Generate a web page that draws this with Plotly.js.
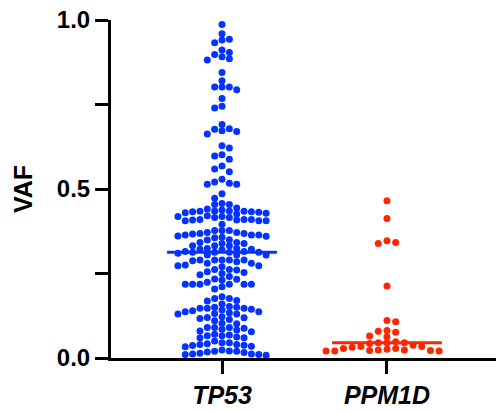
<!DOCTYPE html>
<html><head><meta charset="utf-8">
<script src="https://cdn.plot.ly/plotly-3.0.1.min.js"></script>
<style>html,body{margin:0;padding:0;background:#fff}#chart{width:496px;height:411px}</style>
</head><body><div id="chart"></div>
<script>
// ---- data ----
const categories = ['TP53', 'PPM1D'];
const tp53Vaf = [
  0.987, 0.959, 0.933, 0.943, 0.941, 0.911, 0.904, 0.898, 0.885, 0.891, 0.882,
  0.845, 0.820, 0.802, 0.794, 0.802, 0.802, 0.768, 0.740, 0.745, 0.691,
  0.672, 0.670, 0.663, 0.677, 0.678, 0.628, 0.621, 0.598, 0.588, 0.601,
  0.568, 0.559, 0.551, 0.517, 0.529, 0.514, 0.514, 0.521, 0.486, 0.473,
  0.454, 0.454, 0.457,
  0.433, 0.444, 0.441, 0.428, 0.430, 0.433, 0.434, 0.434, 0.431, 0.426, 0.435, 0.435, 0.438,
  0.421, 0.419, 0.406, 0.408, 0.408, 0.410, 0.416, 0.396, 0.406, 0.406, 0.410, 0.410, 0.416, 0.419,
  0.364, 0.361, 0.360, 0.371, 0.377, 0.364, 0.377, 0.364, 0.377, 0.367, 0.368, 0.368, 0.350, 0.357, 0.356, 0.371,
  0.342, 0.349, 0.339, 0.342, 0.339, 0.332, 0.332, 0.332, 0.324, 0.324,
  0.320, 0.313, 0.313, 0.313, 0.315, 0.313, 0.305, 0.310, 0.315, 0.322, 0.322, 0.305, 0.305,
  0.290, 0.290, 0.288, 0.285, 0.290, 0.280, 0.290, 0.275, 0.280, 0.273, 0.290, 0.273, 0.270,
  0.262, 0.262, 0.255, 0.253, 0.260, 0.250, 0.246,
  0.234, 0.218, 0.241, 0.218, 0.233, 0.211, 0.224, 0.204, 0.218, 0.218, 0.218, 0.218, 0.231,
  0.181, 0.176, 0.176, 0.170, 0.169,
  0.160, 0.150, 0.147, 0.152, 0.147, 0.147, 0.144, 0.142, 0.137, 0.134, 0.150, 0.137, 0.130, 0.130, 0.140, 0.132,
  0.120, 0.122, 0.119, 0.117, 0.114, 0.110, 0.103, 0.101,
  0.090, 0.090, 0.088, 0.080, 0.078, 0.090, 0.085, 0.083,
  0.070, 0.068, 0.066, 0.062, 0.060, 0.060, 0.066,
  0.050, 0.045, 0.045, 0.040, 0.037, 0.035, 0.040, 0.033, 0.038, 0.042,
  0.024, 0.020, 0.012, 0.018, 0.021, 0.014, 0.020, 0.016, 0.012, 0.010, 0.008, 0.010
];
const ppm1dVaf = [
  0.465, 0.413, 0.342, 0.339, 0.347, 0.213, 0.111, 0.107, 0.081, 0.079, 0.076, 0.065, 0.063,
  0.045, 0.038, 0.032, 0.034, 0.045, 0.034, 0.045, 0.043, 0.048,
  0.024, 0.021, 0.021, 0.026, 0.021, 0.028, 0.028, 0.022, 0.024, 0.022
];
const yTickVals = [0, 0.25, 0.5, 0.75, 1.0];
const yTickText = ['0.0', '', '0.5', '', '1.0'];
const yTitle = 'VAF';

// ---- layout geometry / styles ----
const W = 496, H = 411;
const M = {l: 111, r: 0, t: 20, b: 53};
const xRange = [-0.673, 1.661], yRange = [0, 1];
const plotW = W - M.l - M.r, plotH = H - M.t - M.b;
const pxX = plotW / (xRange[1] - xRange[0]);
const pxY = plotH / (yRange[1] - yRange[0]);
const colors = ['#0433FF', '#FF2600'];
const colSpacingPx = [7.35, 8.7];
const dotSize = 7, minGapPx = 6;
const medianHalfWidth = 0.333;
const FONT = 'Arial, "Liberation Sans", sans-serif';

function swarmX(values, center, spacing) {
  const order = values.map((v, i) => i).sort((a, b) => values[b] - values[a]);
  const colLast = {};
  const xs = new Array(values.length);
  let flip = 1;
  for (const i of order) {
    const ypx = values[i] * pxY;
    let chosen = null;
    for (let r = 0; r < 60 && chosen === null; r++) {
      const cands = r === 0 ? [0] : [flip * r, -flip * r];
      for (const k of cands) {
        const last = colLast[k];
        if (last === undefined || last - ypx >= minGapPx) { chosen = k; break; }
      }
    }
    if (chosen !== 0) flip = chosen > 0 ? -1 : 1;
    colLast[chosen] = ypx;
    xs[i] = center + chosen * spacing / pxX;
  }
  return xs;
}
function median(a) {
  const s = [...a].sort((p, q) => p - q), n = s.length;
  return n % 2 ? s[(n - 1) / 2] : (s[n / 2 - 1] + s[n / 2]) / 2;
}

const groups = [tp53Vaf, ppm1dVaf];
const traces = [];
groups.forEach((vals, gi) => {
  traces.push({
    type: 'scatter', mode: 'markers',
    x: swarmX(vals, gi, colSpacingPx[gi]), y: vals,
    marker: {size: dotSize, color: colors[gi], line: {width: 0}},
    cliponaxis: false, hoverinfo: 'y', showlegend: false
  });
});
groups.forEach((vals, gi) => {
  const m = median(vals);
  traces.push({
    type: 'scatter', mode: 'lines',
    x: [gi - medianHalfWidth, gi + medianHalfWidth], y: [m, m],
    line: {color: colors[gi], width: 3}, cliponaxis: false, showlegend: false, hoverinfo: 'skip'
  });
});

const layout = {
  width: W, height: H, margin: M,
  paper_bgcolor: '#fff', plot_bgcolor: '#fff',
  font: {family: FONT, color: '#000'},
  showlegend: false,
  xaxis: {
    range: xRange, tickvals: [0, 1], ticktext: categories,
    showgrid: false, zeroline: false, showline: true, linecolor: '#000', linewidth: 3,
    ticks: 'outside', ticklen: 13, tickwidth: 3, tickcolor: '#000',
    tickfont: {size: 25, weight: 'bold', style: 'italic', family: FONT},
    fixedrange: true
  },
  yaxis: {
    range: yRange, tickvals: yTickVals, ticktext: yTickText,
    showgrid: false, zeroline: false, showline: true, linecolor: '#000', linewidth: 3,
    ticks: 'outside', ticklen: 13, tickwidth: 3, tickcolor: '#000',
    tickfont: {size: 24, weight: 'bold', family: FONT},
    title: {text: yTitle, font: {size: 25, weight: 'bold', family: FONT}, standoff: 18},
    fixedrange: true
  }
};
Plotly.newPlot('chart', traces, layout, {displayModeBar: false, staticPlot: true});
</script>
</body></html>
